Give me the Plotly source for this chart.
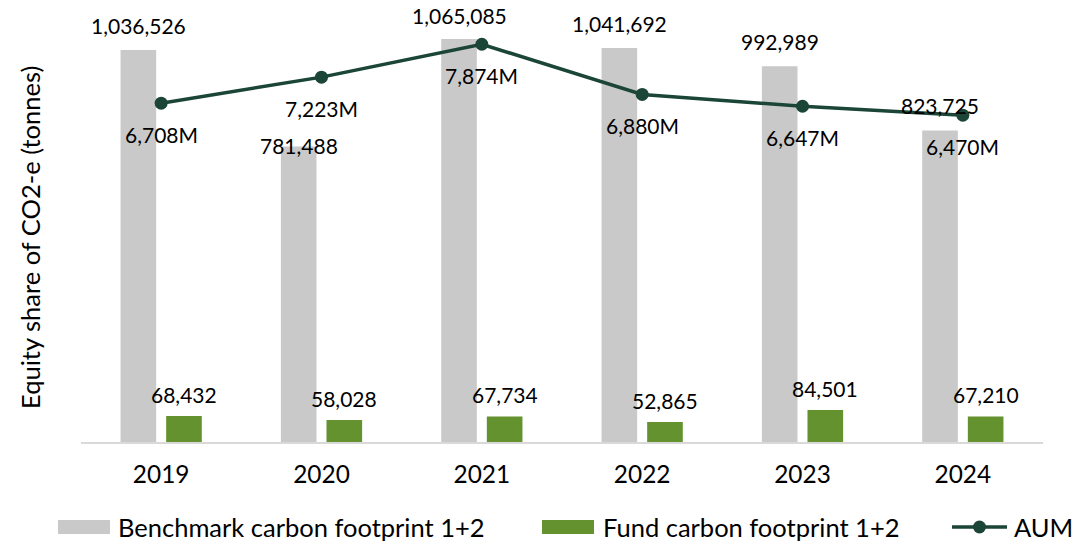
import plotly.graph_objects as go

years = ["2019", "2020", "2021", "2022", "2023", "2024"]
benchmark = [1036526, 781488, 1065085, 1041692, 992989, 823725]
fund = [68432, 58028, 67734, 52865, 84501, 67210]
aum = [6708, 7223, 7874, 6880, 6647, 6470]

GREY = "#c9c9c9"
GREEN = "#64922f"
DARK = "#1b4536"
FONT = "Lato"
FS_LABEL = 21
FS_TICK = 24.4
FS_TITLE = 25.5
FS_LEG = 25.5

W, H = 1074, 543
ML, MR, MT, MB = 81, 31, 10, 101
PW = W - ML - MR
PH = H - MT - MB

fig = go.Figure()
fig.add_trace(go.Bar(x=years, y=benchmark, name="Benchmark carbon footprint 1+2",
                     marker=dict(color=GREY, line=dict(width=0)), showlegend=False))
fig.add_trace(go.Bar(x=years, y=fund, name="Fund carbon footprint 1+2",
                     marker=dict(color=GREEN, line=dict(width=0)), showlegend=False))
fig.add_trace(go.Scatter(x=years, y=aum, name="AUM", yaxis="y2", mode="lines+markers",
                         line=dict(color=DARK, width=3.5),
                         marker=dict(color=DARK, size=13), showlegend=False))

ann = []
bench_shift = [24, 1, 24, 24, 25, 25]
for i, v in enumerate(benchmark):
    ann.append(dict(x=i, y=v, xref="x", yref="y", text=f"{v:,}", showarrow=False,
                    xshift=-22.8, yshift=bench_shift[i], yanchor="middle",
                    font=dict(family=FONT, size=FS_LABEL, color="#000")))
for i, v in enumerate(fund):
    ann.append(dict(x=i, y=v, xref="x", yref="y", text=f"{v:,}", showarrow=False,
                    xshift=22.8, yshift=22, yanchor="middle",
                    font=dict(family=FONT, size=FS_LABEL, color="#000")))
for i, v in enumerate(aum):
    ann.append(dict(x=i, y=v, xref="x", yref="y2", text=f"{v:,}M", showarrow=False,
                    xshift=0, yshift=-31, yanchor="middle",
                    font=dict(family=FONT, size=FS_LABEL, color="#000")))

def px2x(px):
    return (px - ML) / PW

def py2y(py):
    return 1 - (py - MT) / PH

# y-axis title
ann.append(dict(xref="paper", yref="paper", x=px2x(30), y=py2y(238), text="Equity share of CO2-e (tonnes)",
                textangle=-90, showarrow=False, xanchor="center", yanchor="middle",
                font=dict(family=FONT, size=FS_TITLE, color="#000")))

# custom legend
shapes = []
LY = 527
legend_items = [
    ("rect", GREY, 58, 110, 116, "Benchmark carbon footprint 1+2"),
    ("rect", GREEN, 542, 594, 601, "Fund carbon footprint 1+2"),
    ("line", DARK, 952, 1007, 1012, "AUM"),
]
for kind, col, x0, x1, tx, label in legend_items:
    if kind == "rect":
        shapes.append(dict(type="rect", xref="paper", yref="paper",
                           x0=px2x(x0), x1=px2x(x1), y0=py2y(LY + 7), y1=py2y(LY - 7),
                           fillcolor=col, line=dict(width=0)))
    else:
        shapes.append(dict(type="line", xref="paper", yref="paper",
                           x0=px2x(x0), x1=px2x(x1), y0=py2y(LY), y1=py2y(LY),
                           line=dict(color=col, width=3.5)))
        cx = (x0 + x1) / 2
        shapes.append(dict(type="circle", xref="paper", yref="paper",
                           x0=px2x(cx - 6.5), x1=px2x(cx + 6.5), y0=py2y(LY + 6.5), y1=py2y(LY - 6.5),
                           fillcolor=col, line=dict(width=0)))
    ann.append(dict(xref="paper", yref="paper", x=px2x(tx), y=py2y(LY), text=label,
                    showarrow=False, xanchor="left", yanchor="middle",
                    font=dict(family=FONT, size=FS_LEG, color="#000")))

fig.update_layout(
    width=W, height=H,
    margin=dict(l=ML, r=MR, t=MT, b=MB, pad=0),
    paper_bgcolor="white", plot_bgcolor="white",
    barmode="group", bargap=0.431, bargroupgap=0.219,
    font=dict(family=FONT, size=FS_LABEL, color="#000"),
    xaxis=dict(type="category", range=[-0.5, 5.5], showgrid=False, showline=True,
               linecolor="#d9d9d9", linewidth=2,
               ticks="", tickfont=dict(family=FONT, size=FS_TICK, color="#000"), ticklabelstandoff=10),
    yaxis=dict(range=[0, 1142000], showgrid=False, showticklabels=False, zeroline=False,
               showline=False, ticks=""),
    yaxis2=dict(range=[0, 8552], overlaying="y", side="right", showgrid=False,
                showticklabels=False, zeroline=False, showline=False, ticks=""),
    annotations=ann, shapes=shapes,
)

fig.write_html("out.html", config={"displayModeBar": False},
               post_script="document.body.style.margin='0';document.body.style.overflow='hidden';")
